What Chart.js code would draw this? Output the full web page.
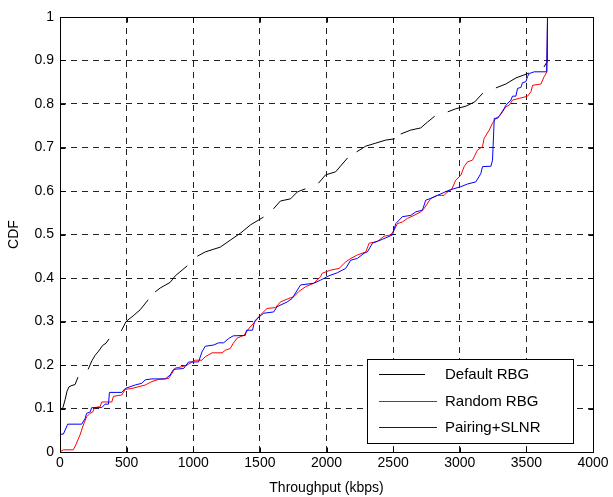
<!DOCTYPE html>
<html><head><meta charset="utf-8">
<script src="https://cdn.jsdelivr.net/npm/chart.js@4/dist/chart.umd.min.js"></script>
<style>html,body{margin:0;padding:0;background:#fff}#wrap{width:613px;height:497px}</style>
</head><body><div id="wrap"><canvas id="c" width="613" height="497"></canvas></div>
<script>
const xTicks = [0,500,1000,1500,2000,2500,3000,3500,4000];
const yTicks = [0,0.1,0.2,0.3,0.4,0.5,0.6,0.7,0.8,0.9,1];
const seriesNames = ['Default RBG','Random RBG','Pairing+SLNR'];
const xTitle = 'Throughput (kbps)';
const yTitle = 'CDF';

const defaultX = [0,23,38,53,68,90,113,135,170,211,240,263,290,320,345,368,410,459,496,549,602,662,690,714,752,827,865,955,990,1030,1090,1203,1278,1354,1429,1527,1565,1602,1654,1730,1782,1842,1890,1940,1993,2068,2158,2190,2226,2294,2369,2444,2512,2535,2557,2632,2707,2760,2812,2860,2910,2970,3046,3113,3173,3220,3271,3346,3422,3519,3575,3632,3655,3658,4000];
const defaultY = [0.094,0.103,0.12,0.14,0.15,0.153,0.155,0.172,null,0.19,0.21,0.222,0.232,0.245,0.25,0.26,null,0.278,0.30,0.313,0.327,0.35,null,0.368,0.377,0.39,0.405,0.428,null,0.45,0.46,0.471,0.487,0.503,0.522,0.54,null,0.559,0.577,0.582,0.598,0.605,null,0.618,0.637,0.644,0.676,null,0.69,0.703,0.71,0.717,0.72,null,0.731,0.74,0.745,0.759,0.772,null,0.782,0.789,0.795,0.805,0.825,null,0.837,0.846,0.86,0.871,null,0.885,0.897,1.0,1.0];

const randomX = [0,25,100,118,150,175,200,226,246,258,301,313,389,401,464,489,539,589,640,690,740,815,840,865,915,953,1015,1065,1090,1141,1216,1241,1278,1300,1330,1380,1420,1454,1504,1554,1617,1654,1717,1755,1792,1843,1905,1955,1968,2031,2094,2144,2182,2232,2295,2320,2382,2432,2482,2507,2532,2570,2607,2657,2708,2733,2783,2833,2883,2908,2940,2970,3008,3033,3058,3096,3133,3171,3183,3221,3246,3271,3296,3321,3346,3371,3396,3447,3509,3534,3547,3609,3634,3654,3659,4000];
const randomY = [0,0.005,0.005,0.016,0.039,0.062,0.081,0.089,0.092,0.102,0.104,0.115,0.115,0.128,0.131,0.144,0.146,0.15,0.154,0.162,0.167,0.169,0.181,0.193,0.196,0.2,0.211,0.211,0.219,0.228,0.228,0.234,0.238,0.25,0.262,0.268,0.285,0.296,0.315,0.33,0.332,0.345,0.353,0.357,0.369,0.38,0.388,0.403,0.411,0.418,0.422,0.437,0.445,0.453,0.46,0.48,0.484,0.496,0.499,0.51,0.525,0.529,0.537,0.544,0.552,0.56,0.583,0.59,0.59,0.598,0.604,0.625,0.636,0.656,0.667,0.671,0.694,0.702,0.721,0.74,0.756,0.767,0.772,0.782,0.794,0.797,0.809,0.813,0.818,0.828,0.843,0.846,0.863,0.874,1.0,1.0];

const pairingX = [0,25,58,163,188,200,226,238,313,338,364,371,464,489,564,614,640,690,790,827,852,928,965,1040,1065,1090,1153,1191,1228,1266,1300,1390,1400,1445,1460,1479,1529,1604,1629,1705,1742,1805,1905,1955,2018,2081,2144,2182,2232,2282,2307,2345,2420,2495,2520,2570,2633,2670,2720,2745,2783,2833,2921,3008,3058,3121,3158,3171,3234,3246,3259,3284,3309,3334,3346,3384,3396,3421,3434,3459,3471,3496,3509,3521,3559,3652,3659,4000];
const pairingY = [0.041,0.041,0.064,0.064,0.077,0.089,0.092,0.102,0.102,0.11,0.11,0.137,0.137,0.146,0.154,0.158,0.166,0.168,0.168,0.177,0.19,0.192,0.207,0.207,0.23,0.243,0.246,0.251,0.251,0.261,0.267,0.268,0.28,0.28,0.3,0.307,0.319,0.322,0.334,0.345,0.353,0.384,0.388,0.395,0.405,0.412,0.422,0.441,0.445,0.457,0.46,0.48,0.489,0.499,0.525,0.541,0.544,0.552,0.556,0.579,0.583,0.59,0.602,0.61,0.616,0.621,0.64,0.656,0.657,0.671,0.767,0.767,0.778,0.79,0.797,0.809,0.818,0.818,0.836,0.838,0.849,0.851,0.863,0.87,0.874,0.874,1.0,1.0];

const seriesColors = ['#000000','#ff0000','#0000ff'];

function pts(xs, ys){ return xs.map((x,i)=>({x:x, y:ys[i]})); }

const FONT = 'Liberation Sans, Arial, sans-serif';

const framePlugin = {
  id:'frame',
  afterDraw(chart){
    const {ctx, chartArea:a, scales} = chart;
    ctx.save();
    ctx.strokeStyle = '#000';
    ctx.lineWidth = 1;
    ctx.setLineDash([]);
    ctx.beginPath();
    const L=Math.round(a.left)+0.5, R=Math.round(a.right)+0.5, T=Math.round(a.top)+0.5, B=Math.round(a.bottom)+0.5;
    ctx.rect(L,T,R-L,B-T);
    const tl = 5;
    xTicks.forEach(v=>{
      const px = Math.round(scales.x.getPixelForValue(v))+0.5;
      ctx.moveTo(px,B); ctx.lineTo(px,B-tl);
      ctx.moveTo(px,T); ctx.lineTo(px,T+tl);
    });
    yTicks.forEach(v=>{
      const py = Math.round(scales.y.getPixelForValue(v))+0.5;
      ctx.moveTo(L,py); ctx.lineTo(L+tl,py);
      ctx.moveTo(R,py); ctx.lineTo(R-tl,py);
    });
    ctx.stroke();
    // legend
    const lx=367.5, ly=359.5, lw=206, lh=84;
    ctx.fillStyle='#fff';
    ctx.fillRect(lx,ly,lw,lh);
    ctx.strokeStyle='#000';
    ctx.strokeRect(lx,ly,lw,lh);
    const rows=[374,401,427];
    const lineEnds=[425,437,437];
    ctx.font = '15px '+FONT;
    ctx.textBaseline='middle';
    ctx.textAlign='left';
    seriesNames.forEach((n,i)=>{
      ctx.beginPath();
      ctx.strokeStyle=seriesColors[i];
      ctx.lineWidth=1.2;
      ctx.moveTo(379,rows[i]+0.5); ctx.lineTo(lineEnds[i],rows[i]+0.5);
      ctx.stroke();
      ctx.fillStyle='#000';
      ctx.fillText(n,445,rows[i]+1);
    });
    ctx.restore();
  }
};

new Chart(document.getElementById('c'),{
  type:'line',
  data:{datasets:[
    {label:seriesNames[0],data:pts(defaultX,defaultY),borderColor:seriesColors[0],borderWidth:1,pointRadius:0,spanGaps:false,tension:0,order:3},
    {label:seriesNames[1],data:pts(randomX,randomY),borderColor:seriesColors[1],borderWidth:1,pointRadius:0,tension:0,order:2},
    {label:seriesNames[2],data:pts(pairingX,pairingY),borderColor:seriesColors[2],borderWidth:1,pointRadius:0,tension:0,order:1}
  ]},
  options:{
    responsive:false,animation:false,
    layout:{padding:{top:17,right:20,left:0,bottom:0}},
    plugins:{legend:{display:false},tooltip:{enabled:false}},
    scales:{
      x:{type:'linear',min:0,max:4000,
        afterBuildTicks(ax){ax.ticks = xTicks.map(v=>({value:v}));},
        afterFit(ax){ax.height=45;},
        ticks:{color:'#000',font:{family:FONT,size:14},padding:3,maxRotation:0,callback:v=>String(v)},
        grid:{color:'#222',lineWidth:1,drawTicks:false,tickLength:0},
        border:{display:false,dash:[6,5]},
        title:{display:true,text:xTitle,color:'#000',font:{family:FONT,size:14},padding:{top:2,bottom:0}}
      },
      y:{type:'linear',min:0,max:1,
        afterBuildTicks(ax){ax.ticks = yTicks.map(v=>({value:v}));},
        afterFit(ax){ax.width=60;},
        ticks:{color:'#000',font:{family:FONT,size:14},padding:6,callback:v=>String(Math.round(v*10)/10)},
        grid:{color:'#222',lineWidth:1,drawTicks:false,tickLength:0},
        border:{display:false,dash:[6,5]},
        title:{display:true,text:yTitle,color:'#000',font:{family:FONT,size:14},padding:{top:6,bottom:4}}
      }
    }
  },
  plugins:[framePlugin]
});
</script></body></html>
